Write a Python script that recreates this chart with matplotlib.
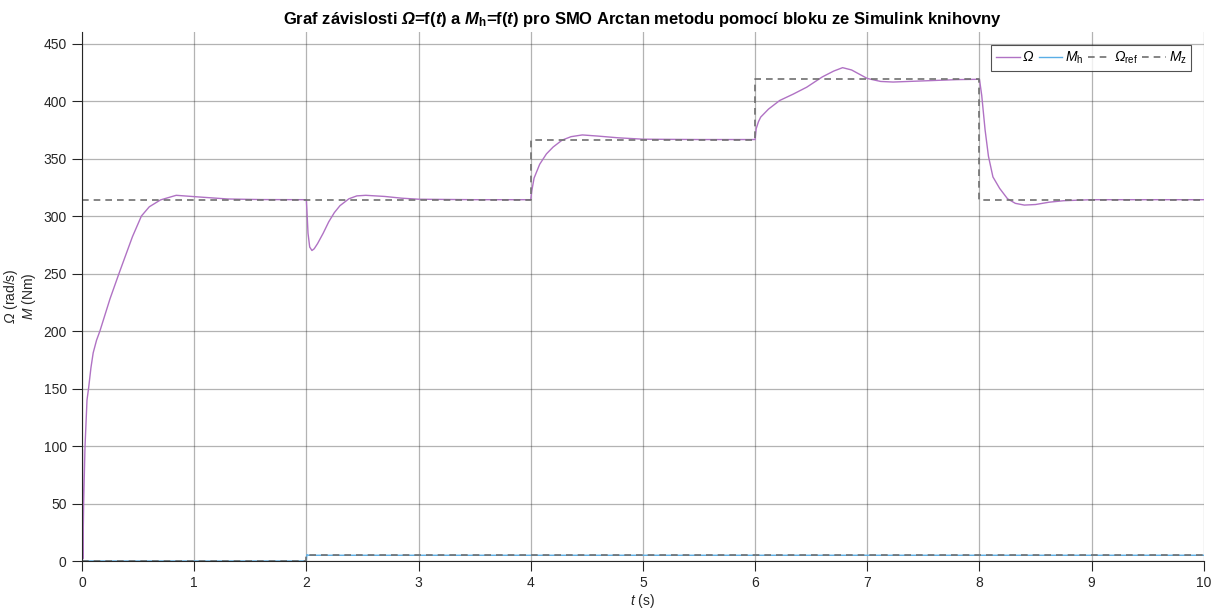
import numpy as np
import matplotlib.pyplot as plt

plt.rcParams['font.family'] = ['Liberation Sans', 'DejaVu Sans']
plt.rcParams['mathtext.fontset'] = 'custom'
plt.rcParams['mathtext.rm'] = 'Liberation Sans'
plt.rcParams['mathtext.it'] = 'Liberation Sans:italic'
plt.rcParams['mathtext.cal'] = 'Liberation Sans:italic'
plt.rcParams['mathtext.bf'] = 'Liberation Sans:bold'
plt.rcParams['mathtext.bfit'] = 'Liberation Sans:italic:bold'

# omega (rad/s)
t_omega = [0.0, 0.004, 0.008, 0.015, 0.027, 0.045, 0.06, 0.08, 0.1, 0.13, 0.16, 0.25, 0.33, 0.45, 0.53,
           0.6, 0.7, 0.84, 1.05, 1.3, 1.6, 2.0,
           2.005, 2.015, 2.03, 2.05, 2.07, 2.1, 2.15, 2.2, 2.25, 2.3, 2.38, 2.45, 2.53, 2.7, 2.85, 3.0, 3.5, 4.0,
           4.01, 4.03, 4.08, 4.14, 4.2, 4.28, 4.36, 4.46, 4.6, 4.78, 5.0, 5.5, 6.0,
           6.01, 6.03, 6.05, 6.12, 6.22, 6.34, 6.46, 6.6, 6.7, 6.78, 6.86, 7.0, 7.12, 7.23, 7.5, 7.8, 8.0,
           8.02, 8.05, 8.08, 8.12, 8.18, 8.25, 8.32, 8.4, 8.5, 8.62, 8.75, 9.0, 9.5, 10.0]
omega = [0.0, 97, 2, 50, 99, 140, 151, 168, 181, 192, 200, 228, 250, 282, 300,
         308, 314, 318, 316.5, 314.8, 314.3, 314.2,
         305, 285, 273, 270, 271.5, 276, 285, 295, 303, 309, 315, 317.5, 318, 317, 315.5, 314.6, 314.2, 314.2,
         322, 333, 345, 354, 360, 366, 369, 370.5, 369.5, 368, 366.8, 366.5, 366.5,
         376, 382, 386, 393, 400.5, 406, 412, 421, 426, 429, 427, 419.6, 417, 416.5, 417.5, 418.6, 418.9,
         405, 375, 352, 334, 324, 315, 311, 309.5, 310, 312, 313.3, 314.2, 314.2, 314.2]

# reference speed and load torque
t_ref = [0, 4, 4, 6, 6, 8, 8, 10]
omega_ref = [314.16, 314.16, 366.5, 366.5, 418.9, 418.9, 314.16, 314.16]
t_mz = [0, 2, 2, 10]
m_z = [0, 0, 5, 5]
t_mh = [0, 0.003, 0.006, 2, 2.005, 2.02, 10]
m_h = [0, 2, 0, 0, 5.5, 5, 5]

fig = plt.figure(figsize=(12.16, 6.12), dpi=100)
ax = fig.add_axes([0.0674, 0.0833, 0.9226, 0.8644])

ax.plot(t_omega, omega, color='#b072c4', lw=1.0, label=r'$\mathcal{\Omega}$')
ax.plot(t_mh, m_h, color='#5aaee6', lw=1.0, label=r'$\mathit{M}_\mathrm{h}$')
ax.plot(t_ref, omega_ref, color='#707070', lw=1.2, ls=(0, (4, 3)), label=r'$\mathcal{\Omega}_\mathrm{ref}$')
ax.plot(t_mz, m_z, color='#707070', lw=1.2, ls=(0, (4, 3)), label=r'$\mathit{M}_\mathrm{z}$')

ax.set_xlim(0, 10)
ax.set_ylim(0, 460)
ax.set_xticks(np.arange(0, 11, 1))
ax.set_yticks(np.arange(0, 451, 50))
ax.grid(True, color='#262626', alpha=0.35, lw=0.9)
ax.spines['top'].set_visible(False)
ax.spines['right'].set_visible(False)
ax.spines['left'].set_color('#262626')
ax.spines['bottom'].set_color('#262626')
ax.tick_params(direction='out', length=7, width=0.8, colors='#262626', labelsize=10, pad=4)

ax.set_title(r'Graf závislosti $\mathbfit{\Omega}$=f($\mathbfit{t}$) a $\mathbfit{M}_\mathbf{h}$=f($\mathbfit{t}$) '
             'pro SMO Arctan metodu pomocí bloku ze Simulink knihovny',
             fontsize=12, fontweight='bold', pad=6)
ax.set_xlabel(r'$\mathit{t}$ (s)', fontsize=10, labelpad=1, color='#262626')
ax.set_ylabel('$\\mathcal{\\Omega}$ (rad/s)\n$\\mathit{M}$ (Nm)', fontsize=10, labelpad=4,
              color='#262626', linespacing=1.0)

leg = ax.legend(loc='upper right', ncol=4, fontsize=10, frameon=True, fancybox=False,
                handlelength=1.7, handletextpad=0.2, columnspacing=0.3,
                borderpad=0.35, borderaxespad=0.9)
leg.get_frame().set_edgecolor('#262626')
leg.get_frame().set_linewidth(0.8)

fig.savefig('out.png', dpi=100)
